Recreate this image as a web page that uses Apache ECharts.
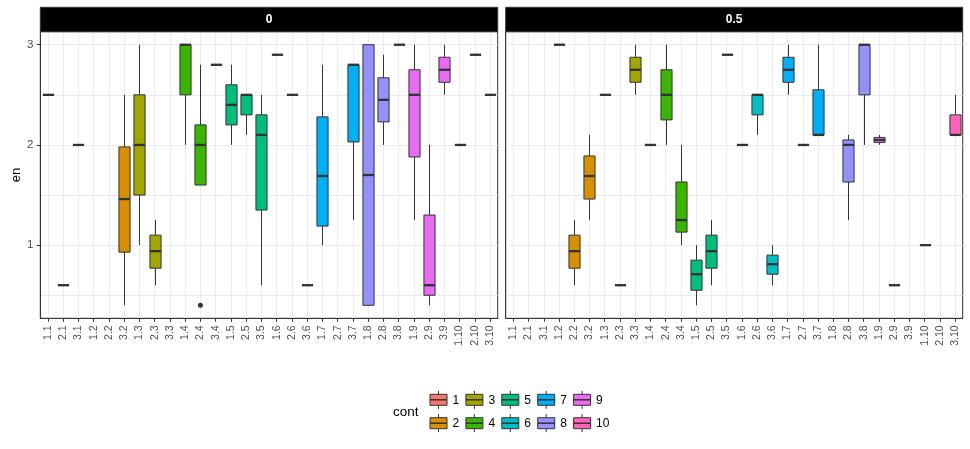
<!DOCTYPE html>
<html><head><meta charset="utf-8">
<script src="https://cdn.jsdelivr.net/npm/echarts@6/dist/echarts.min.js"></script>
<style>html,body{margin:0;padding:0;background:#fff}#c{width:970px;height:449px}</style>
</head><body><div id="c"></div>
<script>
const categories = ['1.1','2.1','3.1','1.2','2.2','3.2','1.3','2.3','3.3','1.4','2.4','3.4','1.5','2.5','3.5',
  '1.6','2.6','3.6','1.7','2.7','3.7','1.8','2.8','3.8','1.9','2.9','3.9','1.10','2.10','3.10'];
const facetNames = ['0', '0.5'];
const contLevels = ['1','2','3','4','5','6','7','8','9','10'];
const contColors = ['#F8766D','#D89000','#A3A500','#39B600','#00BF7D','#00BFC4','#00B0F6','#9590FF','#E76BF3','#FF62BC'];
// [category, lower whisker, lower hinge, median, upper hinge, upper whisker]
const facet0Boxes = [
  ['1.1', 2.5, 2.5, 2.5, 2.5, 2.5],
  ['2.1', 0.6, 0.6, 0.6, 0.6, 0.6],
  ['3.1', 2.0, 2.0, 2.0, 2.0, 2.0],
  ['3.2', 0.4, 0.93, 1.46, 1.98, 2.5],
  ['1.3', 1.0, 1.5, 2.0, 2.5, 3.0],
  ['2.3', 0.6, 0.77, 0.94, 1.1, 1.25],
  ['1.4', 2.0, 2.5, 3.0, 3.0, 3.0],
  ['2.4', 1.6, 1.6, 2.0, 2.2, 2.8],
  ['3.4', 2.8, 2.8, 2.8, 2.8, 2.8],
  ['1.5', 2.0, 2.2, 2.4, 2.6, 2.8],
  ['2.5', 2.1, 2.3, 2.5, 2.5, 2.5],
  ['3.5', 0.6, 1.35, 2.1, 2.3, 2.5],
  ['1.6', 2.9, 2.9, 2.9, 2.9, 2.9],
  ['2.6', 2.5, 2.5, 2.5, 2.5, 2.5],
  ['3.6', 0.6, 0.6, 0.6, 0.6, 0.6],
  ['1.7', 1.0, 1.19, 1.69, 2.28, 2.8],
  ['3.7', 1.25, 2.03, 2.8, 2.8, 2.8],
  ['1.8', 0.4, 0.4, 1.7, 3.0, 3.0],
  ['2.8', 2.0, 2.23, 2.45, 2.67, 2.9],
  ['3.8', 3.0, 3.0, 3.0, 3.0, 3.0],
  ['1.9', 1.25, 1.88, 2.5, 2.75, 3.0],
  ['2.9', 0.4, 0.5, 0.6, 1.3, 2.0],
  ['3.9', 2.5, 2.625, 2.75, 2.875, 3.0],
  ['1.10', 2.0, 2.0, 2.0, 2.0, 2.0],
  ['2.10', 2.9, 2.9, 2.9, 2.9, 2.9],
  ['3.10', 2.5, 2.5, 2.5, 2.5, 2.5]
];
const facet0Outliers = [['2.4', 0.4]];
const facet1Boxes = [
  ['1.2', 3.0, 3.0, 3.0, 3.0, 3.0],
  ['2.2', 0.6, 0.77, 0.94, 1.1, 1.25],
  ['3.2', 1.25, 1.46, 1.69, 1.89, 2.1],
  ['1.3', 2.5, 2.5, 2.5, 2.5, 2.5],
  ['2.3', 0.6, 0.6, 0.6, 0.6, 0.6],
  ['3.3', 2.5, 2.625, 2.75, 2.875, 3.0],
  ['1.4', 2.0, 2.0, 2.0, 2.0, 2.0],
  ['2.4', 2.0, 2.25, 2.5, 2.75, 3.0],
  ['3.4', 1.0, 1.13, 1.25, 1.63, 2.0],
  ['1.5', 0.4, 0.55, 0.71, 0.85, 1.0],
  ['2.5', 0.6, 0.77, 0.94, 1.1, 1.25],
  ['3.5', 2.9, 2.9, 2.9, 2.9, 2.9],
  ['1.6', 2.0, 2.0, 2.0, 2.0, 2.0],
  ['2.6', 2.1, 2.3, 2.5, 2.5, 2.5],
  ['3.6', 0.6, 0.71, 0.81, 0.9, 1.0],
  ['1.7', 2.5, 2.625, 2.75, 2.875, 3.0],
  ['2.7', 2.0, 2.0, 2.0, 2.0, 2.0],
  ['3.7', 2.1, 2.1, 2.1, 2.55, 3.0],
  ['2.8', 1.25, 1.63, 2.0, 2.05, 2.1],
  ['3.8', 2.0, 2.5, 3.0, 3.0, 3.0],
  ['1.9', 2.0, 2.025, 2.05, 2.075, 2.1],
  ['2.9', 0.6, 0.6, 0.6, 0.6, 0.6],
  ['1.10', 1.0, 1.0, 1.0, 1.0, 1.0],
  ['3.10', 2.1, 2.1, 2.1, 2.3, 2.5]
];
const facet1Outliers = [];
const yTicks = [1, 2, 3];
const yGridValues = [0.5, 1, 1.5, 2, 2.5, 3];
const yRange = [0.27, 3.13];

const STROKE = '#333333';
const AXIS_TEXT = '#4D4D4D';
const GRID_LINE = '#EBEBEB';

function toRows(boxes) {
  return boxes.map(b => {
    const ci = contLevels.indexOf(b[0].split('.')[1]);
    return [categories.indexOf(b[0]), b[1], b[2], b[3], b[4], b[5], ci];
  });
}

function renderBox(params, api) {
  const xi = api.value(0);
  const lo = api.coord([xi, api.value(1)]);
  const q1 = api.coord([xi, api.value(2)]);
  const md = api.coord([xi, api.value(3)]);
  const q3 = api.coord([xi, api.value(4)]);
  const hi = api.coord([xi, api.value(5)]);
  const bw = api.size([1, 0])[0] * 0.73;
  const cx = Math.round(md[0]) + 0.5;
  const color = contColors[api.value(6)];
  return {
    type: 'group',
    children: [
      { type: 'line', shape: { x1: cx, y1: hi[1], x2: cx, y2: q3[1] }, style: { stroke: STROKE, lineWidth: 1 } },
      { type: 'line', shape: { x1: cx, y1: q1[1], x2: cx, y2: lo[1] }, style: { stroke: STROKE, lineWidth: 1 } },
      { type: 'rect', shape: { x: cx - bw / 2, y: q3[1], width: bw, height: q1[1] - q3[1] },
        style: { fill: color, stroke: STROKE, lineWidth: 1 } },
      { type: 'line', shape: { x1: cx - bw / 2, y1: md[1], x2: cx + bw / 2, y2: md[1] },
        style: { stroke: STROKE, lineWidth: 2.3 } }
    ]
  };
}

const gridRects = [
  { left: 40.3, top: 31.7, width: 457.4, height: 286.6 },
  { left: 505.7, top: 31.7, width: 457.0, height: 286.6 }
];

const grids = gridRects.map(r => ({
  left: r.left, top: r.top, width: r.width, height: r.height,
  show: true, borderColor: STROKE, borderWidth: 1, backgroundColor: 'transparent',
  containLabel: false, outerBoundsMode: 'none'
}));

const xAxes = gridRects.map((r, i) => ({
  type: 'category', gridIndex: i, data: categories, boundaryGap: true,
  axisLine: { show: true, lineStyle: { color: STROKE, width: 1 } },
  axisTick: { show: true, alignWithLabel: true, length: 3.5, lineStyle: { color: STROKE } },
  axisLabel: { rotate: 90, interval: 0, color: AXIS_TEXT, fontSize: 10.5, margin: 7, fontFamily: 'Liberation Sans, Arial, sans-serif' },
  splitLine: { show: true, alignWithLabel: true, lineStyle: { color: GRID_LINE, width: 1 } }
}));

const yAxes = [];
gridRects.forEach((r, i) => {
  yAxes.push({
    type: 'value', gridIndex: i, min: yRange[0], max: yRange[1], position: 'left',
    axisLine: { show: true, lineStyle: { color: STROKE } },
    axisTick: { show: i === 0, length: 3.5, customValues: yTicks, lineStyle: { color: STROKE } },
    axisLabel: { show: i === 0, customValues: yTicks, color: AXIS_TEXT, fontSize: 11.5, margin: 7,
      fontFamily: 'Liberation Sans, Arial, sans-serif' },
    splitLine: { show: false },
    name: i === 0 ? 'en' : '', nameLocation: 'middle', nameRotate: 90, nameGap: 17,
    nameTextStyle: { color: '#000', fontSize: 13, fontFamily: 'Liberation Sans, Arial, sans-serif' }
  });
  yAxes.push({
    type: 'value', gridIndex: i, min: yRange[0], max: yRange[1], position: 'right',
    axisLine: { show: false }, axisTick: { show: false, customValues: yGridValues },
    axisLabel: { show: false, customValues: yGridValues },
    splitLine: { show: true, lineStyle: { color: GRID_LINE, width: 1 } }
  });
});

const facetBoxes = [facet0Boxes, facet1Boxes];
const facetOutliers = [facet0Outliers, facet1Outliers];
const series = [];
facetBoxes.forEach((boxes, i) => {
  series.push({
    type: 'custom', xAxisIndex: i, yAxisIndex: i * 2,
    renderItem: renderBox,
    encode: { x: 0, y: [1, 2, 3, 4, 5] },
    data: toRows(boxes), z: 3, silent: true
  });
  series.push({
    type: 'scatter', xAxisIndex: i, yAxisIndex: i * 2,
    data: facetOutliers[i].map(o => [categories.indexOf(o[0]), o[1]]),
    symbol: 'circle', symbolSize: 5, itemStyle: { color: STROKE, opacity: 1 }, z: 4, silent: true
  });
});

// strips and legend
const graphics = [];
gridRects.forEach((r, i) => {
  graphics.push({
    type: 'rect', shape: { x: r.left, y: 7.3, width: r.width, height: r.top - 7.3 },
    style: { fill: '#000000', stroke: STROKE, lineWidth: 1 }, z: 10
  });
  graphics.push({
    type: 'text', x: r.left + r.width / 2, y: 7.3 + (r.top - 7.3) / 2 + 0.5,
    style: { text: facetNames[i], fill: '#FFFFFF', fontSize: 12, fontWeight: 'bold',
      fontFamily: 'Liberation Sans, Arial, sans-serif', align: 'center', verticalAlign: 'middle' }, z: 11
  });
});
graphics.push({
  type: 'text', x: 393, y: 412,
  style: { text: 'cont', fill: '#000', fontSize: 13.5, fontFamily: 'Liberation Sans, Arial, sans-serif',
    align: 'left', verticalAlign: 'middle' }
});
contLevels.forEach((lv, k) => {
  const col = Math.floor(k / 2), row = k % 2;
  const x0 = 429.5 + col * 35.9;
  const y0 = 390.8 + row * 23.4;
  const cx = x0 + 9;
  graphics.push({ type: 'line', shape: { x1: cx, y1: y0, x2: cx, y2: y0 + 3.5 }, style: { stroke: STROKE, lineWidth: 1 } });
  graphics.push({ type: 'line', shape: { x1: cx, y1: y0 + 14.5, x2: cx, y2: y0 + 18 }, style: { stroke: STROKE, lineWidth: 1 } });
  graphics.push({ type: 'rect', shape: { x: x0 + 0.5, y: y0 + 3.5, width: 17, height: 11 },
    style: { fill: contColors[k], stroke: STROKE, lineWidth: 1 } });
  graphics.push({ type: 'line', shape: { x1: x0 + 0.5, y1: y0 + 9, x2: x0 + 17.5, y2: y0 + 9 },
    style: { stroke: STROKE, lineWidth: 1.5 } });
  graphics.push({ type: 'text', x: x0 + 23, y: y0 + 9.5,
    style: { text: lv, fill: '#000', fontSize: 12, fontFamily: 'Liberation Sans, Arial, sans-serif',
      align: 'left', verticalAlign: 'middle' } });
});

const chart = echarts.init(document.getElementById('c'), null, { renderer: 'canvas' });
chart.setOption({
  animation: false,
  backgroundColor: '#FFFFFF',
  grid: grids,
  xAxis: xAxes,
  yAxis: yAxes,
  series: series,
  graphic: graphics
});
</script>
</body></html>
